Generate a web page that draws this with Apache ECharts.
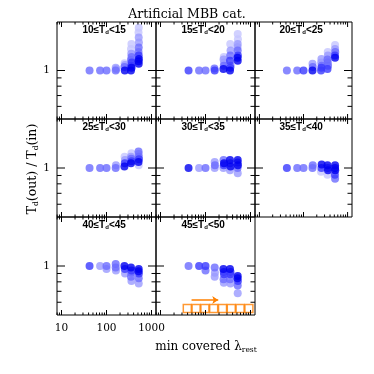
<!DOCTYPE html>
<html><head><meta charset="utf-8">
<script src="https://cdn.jsdelivr.net/npm/echarts@6/dist/echarts.min.js"></script>
<style>html,body{margin:0;padding:0;background:#fff}#c{width:374px;height:374px}</style>
</head><body><div id="c"></div>
<script>
// ---------- data ----------
const panelRanges = [['10','15'],['15','20'],['20','25'],['25','30'],['30','35'],['35','40'],['40','45'],['45','50']];
const xMajorTicks = [10, 100, 1000];
const xMinorTicks = [8, 9, 20, 30, 40, 50, 60, 70, 80, 90, 200, 300, 400, 500, 600, 700, 800, 900];
const yMajorTicks = [1];
const yMinorTicks = [0.6, 0.7, 0.8, 0.9];
const xTickLabels = ['10', '100', '1000'];
const yTickLabels = ['1'];
const shadeColors = ['#0000f0', '#3a3aff', '#6b6bff', '#9a9aff', '#c6c6ff'];

// [lambda_rest, Tout/Tin, shade index]
const panel1 = [[42,1.00,2],[72,1.00,2],[100,1.00,2],
  [160,1.00,2],[165,1.02,3],[160,1.04,3],
  [255,1.00,0],[250,1.05,2],[258,1.08,3],[252,1.11,4],
  [350,1.00,0],[360,1.04,0],[355,1.07,1],[365,1.12,1],[350,1.16,2],[360,1.21,2],[355,1.27,3],[350,1.36,4],[358,1.46,4],
  [520,1.10,0],[515,1.14,0],[525,1.18,0],[520,1.24,1],[515,1.30,2],[520,1.39,2],[525,1.49,3],[520,1.60,3],[515,1.72,4],[520,1.84,4]];
const panel2 = [[42,1.00,1],[72,1.00,2],[100,1.00,2],
  [160,1.00,1],[158,1.03,2],
  [250,1.02,0],[255,1.07,2],[260,1.12,3],[252,1.17,3],[255,1.21,4],
  [350,1.00,0],[355,1.04,1],[360,1.07,2],[350,1.15,1],[355,1.24,2],[360,1.33,3],[355,1.46,4],
  [520,1.15,0],[515,1.20,0],[525,1.24,1],[520,1.33,2],[515,1.40,3],[520,1.46,3],[525,1.56,4],[520,1.68,4]];
const panel3 = [[42,1.00,2],[72,1.00,2],[100,1.00,1],
  [160,1.00,0],[162,1.05,2],[160,1.10,3],
  [250,1.00,1],[255,1.04,1],[258,1.07,2],[252,1.12,3],[255,1.18,3],
  [350,1.02,1],[360,1.07,2],[355,1.12,2],[350,1.17,2],[358,1.24,3],[355,1.30,4],
  [520,1.20,0],[515,1.24,1],[525,1.30,2],[520,1.36,3],[520,1.44,4]];
const panel4 = [[42,1.00,2],[72,1.00,2],[100,1.00,2],
  [160,1.00,2],[162,1.04,3],
  [250,1.02,0],[255,1.07,1],[258,1.12,3],[252,1.17,4],
  [350,1.07,0],[360,1.10,1],[355,1.14,2],[350,1.17,3],[358,1.23,4],
  [520,1.04,4],[515,1.09,0],[525,1.13,1],[520,1.17,2],[520,1.22,3],[515,1.26,2]];
const panel5 = [[42,1.00,0],[72,1.00,3],[100,1.00,2],
  [160,1.00,3],[162,1.04,2],[160,1.09,3],
  [250,1.00,3],[255,1.04,1],[258,1.07,0],[252,1.12,2],
  [350,0.97,3],[360,1.02,0],[355,1.07,1],[350,1.12,0],
  [520,0.93,3],[515,1.00,2],[525,1.04,0],[520,1.08,1],[520,1.12,0]];
const panel6 = [[42,1.00,1],[72,1.00,2],[100,1.00,2],
  [160,1.00,2],[162,1.04,2],
  [250,0.95,4],[255,1.00,1],[258,1.05,0],
  [350,0.91,4],[360,0.97,0],[355,1.00,1],[350,1.04,0],
  [520,0.86,2],[515,0.91,1],[525,0.97,0],[520,1.00,0],[520,1.04,0]];
const panel7 = [[42,1.00,1],[72,1.00,3],[100,1.00,2],[100,0.96,3],
  [160,1.03,2],[160,0.98,2],[162,0.94,3],
  [250,1.00,0],[255,0.96,1],[258,0.90,3],
  [350,0.98,0],[360,0.94,1],[355,0.91,2],[350,0.86,2],[358,0.81,3],
  [520,0.96,0],[515,0.93,0],[525,0.90,1],[520,0.84,2],[520,0.78,3]];
const panel8 = [[42,1.00,2],[72,1.00,1],[100,1.00,1],[100,0.94,2],
  [160,0.98,2],[162,0.91,3],[160,0.86,3],
  [250,0.96,0],[255,0.92,1],[258,0.89,1],[252,0.83,2],[255,0.79,3],
  [350,0.96,0],[360,0.92,1],[355,0.89,1],[350,0.83,2],[358,0.78,3],
  [520,0.87,0],[515,0.84,0],[525,0.81,1],[520,0.76,2],[520,0.68,3]];
const panels = [panel1, panel2, panel3, panel4, panel5, panel6, panel7, panel8];

const boxLambda = [39.4, 61.8, 97, 152, 239, 374, 587, 921];
const boxRatio = [0.55, 0.55, 0.55, 0.55, 0.55, 0.55, 0.55, 0.55];
const arrowLambda = [49, 192];
const arrowRatio = [0.62, 0.62];

// ---------- layout ----------
const X_MIN = Math.pow(10, 0.9), X_MAX = Math.pow(10, 3.1);
const Y_MIN = Math.pow(10, -0.3), Y_MAX = Math.pow(10, 0.3);
const colLeft = [57, 156, 255], colWidth = [99, 99, 97];
const rowTop = [22, 119, 217], rowHeight = [97, 98, 98];
const ORANGE = '#ff8000';
const serif = 'DejaVu Serif';

const grids = [], xAxes = [], yAxes = [], series = [], graphics = [];
const near = (v, t) => Math.abs(v - t) / t < 1e-4;

panels.forEach((pts, i) => {
  const r = Math.floor(i / 3), c = i % 3;
  grids.push({left: colLeft[c], top: rowTop[r], width: colWidth[c], height: rowHeight[r],
    show: true, borderColor: '#000', borderWidth: 1, backgroundColor: 'transparent'});
  xAxes.push({type: 'log', logBase: 10, gridIndex: i, min: X_MIN, max: X_MAX,
    axisLine: {show: false}, axisTick: {show: false}, splitLine: {show: false},
    axisLabel: {show: i === 6, margin: 8, color: '#000', fontFamily: serif, fontSize: 10.5,
      showMinLabel: true, showMaxLabel: true,
      formatter: v => { const k = xMajorTicks.findIndex(t => near(v, t)); return k >= 0 ? xTickLabels[k] : ''; }}});
  yAxes.push({type: 'log', logBase: 10, gridIndex: i, min: Y_MIN, max: Y_MAX,
    axisLine: {show: false}, axisTick: {show: false}, splitLine: {show: false},
    axisLabel: {show: c === 0, margin: 7, color: '#000', fontFamily: serif, fontSize: 10.5,
      formatter: v => { const k = yMajorTicks.findIndex(t => near(v, t)); return k >= 0 ? yTickLabels[k] : ''; }}});

  // x ticks (top & bottom, inward)
  series.push({type: 'custom', xAxisIndex: i, yAxisIndex: i, silent: true, z: 5,
    data: xMajorTicks.map(v => [v, 1, 1]).concat(xMinorTicks.map(v => [v, 1, 0])),
    renderItem: (p, api) => {
      const v = api.value(0), len = api.value(2) ? 5 : 2.5;
      const b = api.coord([v, Y_MIN]), t = api.coord([v, Y_MAX]);
      const st = {stroke: '#000', lineWidth: 1};
      return {type: 'group', children: [
        {type: 'line', shape: {x1: b[0], y1: b[1], x2: b[0], y2: b[1] - len}, style: st},
        {type: 'line', shape: {x1: t[0], y1: t[1], x2: t[0], y2: t[1] + len}, style: st}]};
    }});
  // y ticks (left & right, inward)
  series.push({type: 'custom', xAxisIndex: i, yAxisIndex: i, silent: true, z: 5,
    data: yMajorTicks.map(v => [100, v, 1]).concat(yMinorTicks.map(v => [100, v, 0])),
    renderItem: (p, api) => {
      const v = api.value(1), len = api.value(2) ? 8 : 4.5;
      const l = api.coord([X_MIN, v]), rr = api.coord([X_MAX, v]);
      const st = {stroke: '#000', lineWidth: 1};
      return {type: 'group', children: [
        {type: 'line', shape: {x1: l[0], y1: l[1], x2: l[0] + len, y2: l[1]}, style: st},
        {type: 'line', shape: {x1: rr[0], y1: rr[1], x2: rr[0] - len, y2: rr[1]}, style: st}]};
    }});
  // points: lightest drawn first, darkest on top
  const sorted = pts.slice().sort((a, b) => b[2] - a[2]);
  series.push({type: 'scatter', xAxisIndex: i, yAxisIndex: i, symbol: 'circle', symbolSize: 8, z: 3,
    data: sorted.map(d => ({value: [d[0], d[1]], itemStyle: {color: shadeColors[d[2]]}}))});

  // panel label
  const [lo, hi] = panelRanges[i];
  graphics.push({type: 'text', left: colLeft[c] + colWidth[c] / 2 - 24, top: rowTop[r] + 3,
    style: {text: lo + '≤T{s|d}<' + hi, fill: '#000',
      font: 'bold 10px "Liberation Sans"',
      rich: {s: {fontSize: 6, fontWeight: 'bold', fontFamily: 'Liberation Sans', verticalAlign: 'bottom', padding: [5, 0, 0, 0]}}}});
});

// orange coverage boxes and arrow in panel 8
series.push({type: 'scatter', xAxisIndex: 7, yAxisIndex: 7, symbol: 'rect', symbolSize: [8, 8], z: 4,
  itemStyle: {color: 'rgba(255,255,255,0)', borderColor: ORANGE, borderWidth: 1.5},
  data: boxLambda.map((l, k) => [l, boxRatio[k]])});
series.push({type: 'lines', coordinateSystem: 'cartesian2d', xAxisIndex: 7, yAxisIndex: 7, z: 4,
  symbol: ['none', 'arrow'], symbolSize: 6,
  lineStyle: {color: ORANGE, width: 1.5, opacity: 1},
  data: [{coords: [[arrowLambda[0], arrowRatio[0]], [arrowLambda[1], arrowRatio[1]]]}]});

// axis titles
graphics.push({type: 'text', x: 206, y: 347,
  style: {text: 'min covered λ{s|rest}', fill: '#000', font: '12px "DejaVu Serif"',
    align: 'center', verticalAlign: 'middle',
    rich: {s: {fontSize: 7.5, fontFamily: 'DejaVu Serif', padding: [7, 0, 0, 0]}}}});
graphics.push({type: 'text', x: 33, y: 169, rotation: Math.PI / 2,
  style: {text: 'T{s|d}(out) / T{s|d}(in)', fill: '#000', font: '12.5px "DejaVu Serif"',
    align: 'center', verticalAlign: 'middle',
    rich: {s: {fontSize: 7.5, fontFamily: 'DejaVu Serif', padding: [7, 0, 0, 0]}}}});

const chart = echarts.init(document.getElementById('c'), null, {renderer: 'canvas'});
chart.setOption({
  animation: false,
  backgroundColor: '#fff',
  title: {text: 'Artificial MBB cat.', left: 'center', top: 3,
    textStyle: {fontFamily: serif, fontSize: 12.5, fontWeight: 'normal', color: '#000'}},
  grid: grids, xAxis: xAxes, yAxis: yAxes, series: series, graphic: graphics
});
</script></body></html>
